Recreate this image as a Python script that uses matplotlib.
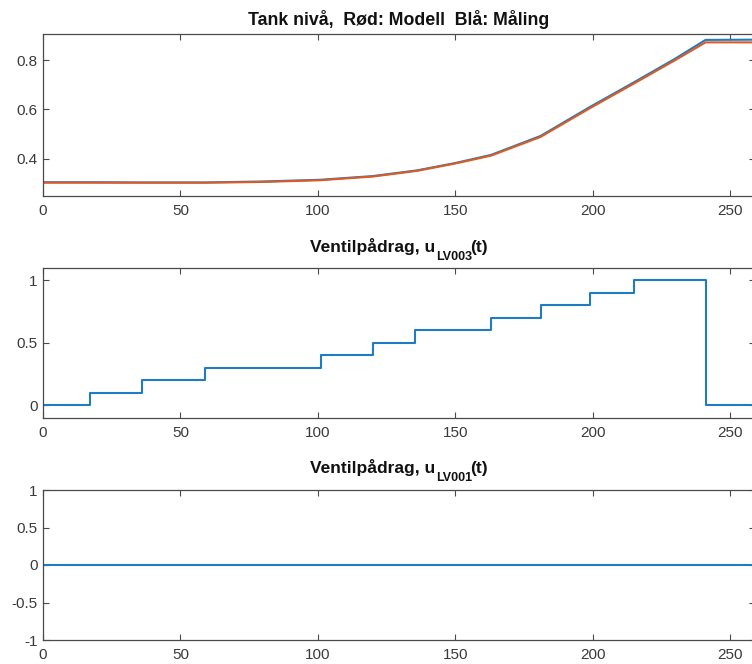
import matplotlib
matplotlib.use("Agg")
import matplotlib.pyplot as plt

plt.rcParams['font.family'] = ['Liberation Sans', 'DejaVu Sans']

# Tank level data
t_level = [0, 17, 36, 59, 80, 101, 120, 136, 150, 163, 181, 199, 215, 230, 241, 259]
level_model = [0.302, 0.302, 0.302, 0.302, 0.305, 0.312, 0.327, 0.350, 0.380, 0.412,
               0.488, 0.605, 0.705, 0.800, 0.872, 0.872]
level_meas = [0.304, 0.304, 0.303, 0.303, 0.307, 0.314, 0.329, 0.352, 0.382, 0.415,
              0.492, 0.610, 0.710, 0.806, 0.882, 0.883]

# Valve LV003 steps (value holds from time until next time)
t_u3 = [0, 17, 36, 59, 101, 120, 135.5, 163, 181, 199, 215, 241, 259]
u3 = [0.0, 0.1, 0.2, 0.3, 0.4, 0.5, 0.6, 0.7, 0.8, 0.9, 1.0, 0.0, 0.0]

# Valve LV001
t_u1 = [0, 259]
u1 = [0.0, 0.0]

xticks = [0, 50, 100, 150, 200, 250]

title_top = 'Tank nivå,  Rød: Modell  Blå: Måling'
title_main = 'Ventilpådrag, u'
title_sub3 = 'LV003'
title_sub1 = 'LV001'
title_tail = '(t)'

BLUE = '#1f7cc4'
RED = '#dd5a22'
AXC = '#4a4a4a'
TXT = '#111111'

W, H = 752, 664
fig = plt.figure(figsize=(W / 100, H / 100), dpi=100)

left = 43 / W
width = 712 / W
CX = (43 + 755) / 2.0


def make_ax(top_px, bot_px):
    return fig.add_axes([left, (H - bot_px) / H, width, (bot_px - top_px) / H])


ax1 = make_ax(34, 196)
ax2 = make_ax(267.7, 417.7)
ax3 = make_ax(490, 640)

ax1.plot(t_level, level_meas, color=BLUE, lw=1.5)
ax1.plot(t_level, level_model, color=RED, lw=1.5)
ax1.set_ylim(0.248, 0.906)
ax1.set_yticks([0.4, 0.6, 0.8])
ax1.set_yticklabels(['0.4', '0.6', '0.8'])

ax2.step(t_u3, u3, where='post', color=BLUE, lw=1.5)
ax2.set_ylim(-0.1, 1.1)
ax2.set_yticks([0, 0.5, 1])
ax2.set_yticklabels(['0', '0.5', '1'])

ax3.plot(t_u1, u1, color=BLUE, lw=1.5)
ax3.set_ylim(-1, 1)
ax3.set_yticks([-1, -0.5, 0, 0.5, 1])
ax3.set_yticklabels(['-1', '-0.5', '0', '0.5', '1'])

for ax in (ax1, ax2, ax3):
    ax.set_xlim(0, 259)
    ax.set_xticks(xticks)
    ax.set_xticklabels([str(v) for v in xticks])
    ax.tick_params(axis='both', direction='in', length=4, width=0.8, top=True, right=True,
                   colors=AXC, labelsize=11, labelcolor='#3a3a3a')
    ax.tick_params(axis='x', pad=6)
    ax.tick_params(axis='y', pad=4)
    for s in ax.spines.values():
        s.set_color(AXC)
        s.set_linewidth(0.9)

renderer = fig.canvas.get_renderer()

# top title
fig.text(CX / W, (H - 25) / H, title_top, fontsize=12.8, fontweight='bold',
         color=TXT, ha='center', va='baseline')


def sub_title(base_py, main, sub, tail, size=12.5, subsize=9, drop=8,
              gap1=0.5, gap2=-1.5):
    kw = dict(fontweight='bold', color=TXT, va='baseline', ha='left')
    t1 = fig.text(0, 0, main, fontsize=size, **kw)
    t2 = fig.text(0, 0, sub, fontsize=subsize, **kw)
    t3 = fig.text(0, 0, tail, fontsize=size, **kw)
    w1 = t1.get_window_extent(renderer).width
    w2 = t2.get_window_extent(renderer).width
    w3 = t3.get_window_extent(renderer).width
    total = w1 + gap1 + w2 + gap2 + w3
    x0 = CX - total / 2.0
    t1.set_position((x0 / W, (H - base_py) / H))
    t2.set_position(((x0 + w1 + gap1) / W, (H - base_py - drop) / H))
    t3.set_position(((x0 + w1 + gap1 + w2 + gap2) / W, (H - base_py) / H))


sub_title(252, title_main, title_sub3, title_tail)
sub_title(473.3, title_main, title_sub1, title_tail)

fig.savefig('out.png', dpi=100)
